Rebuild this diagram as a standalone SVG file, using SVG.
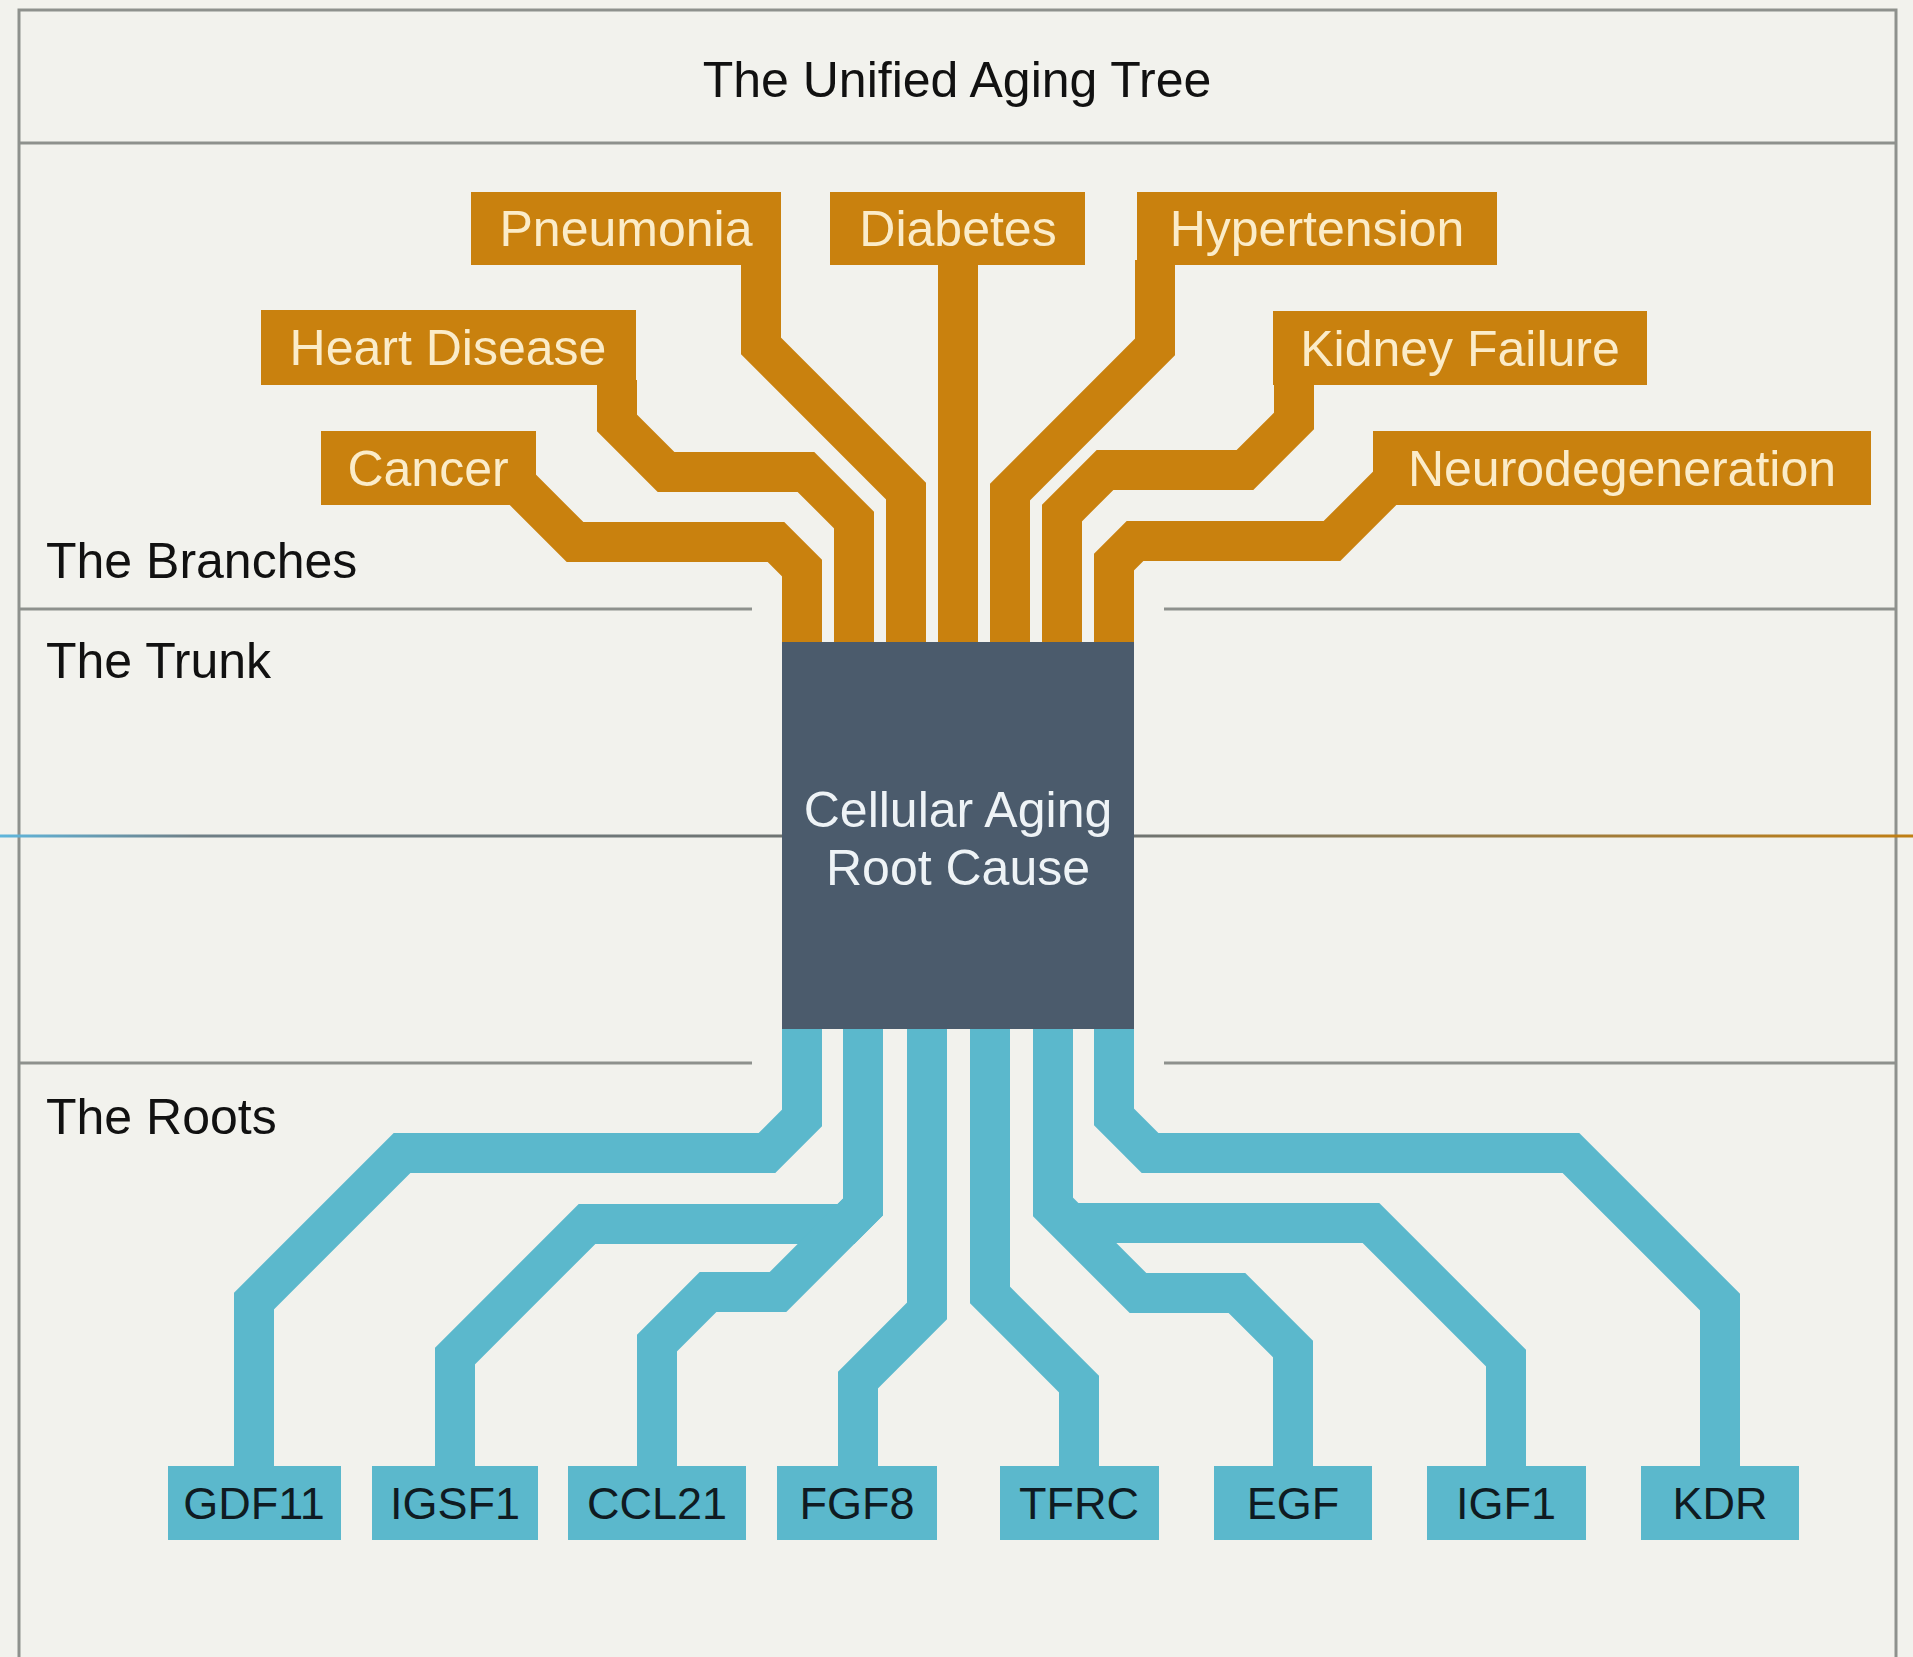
<svg xmlns="http://www.w3.org/2000/svg" width="1913" height="1657" viewBox="0 0 1913 1657">
<defs>
<linearGradient id="gl" x1="0" y1="0" x2="782" y2="0" gradientUnits="userSpaceOnUse">
<stop offset="0" stop-color="#5fb6dc"/><stop offset="0.25" stop-color="#6f7f86"/><stop offset="1" stop-color="#6f7472"/>
</linearGradient>
<linearGradient id="gr" x1="1134" y1="0" x2="1913" y2="0" gradientUnits="userSpaceOnUse">
<stop offset="0" stop-color="#6f7472"/><stop offset="0.3" stop-color="#8a7a55"/><stop offset="1" stop-color="#c07f14"/>
</linearGradient>
<style>
.bg{fill:#f2f2ed}
.frame{stroke:#8e918d;stroke-width:3;fill:none}
.sep{stroke:#8e918d;stroke-width:3}
.lbl{font-family:"Liberation Sans",Arial,sans-serif;font-size:50px;fill:#111}
.title{font-family:"Liberation Sans",Arial,sans-serif;font-size:50px;fill:#111;text-anchor:middle}
.co{fill:none;stroke:#c9810e;stroke-width:40;stroke-linejoin:miter;stroke-miterlimit:10}
.cb{fill:none;stroke:#5bb8cc;stroke-width:40;stroke-linejoin:miter;stroke-miterlimit:10}
.branch rect{fill:#c9810e}
.branch text{font-family:"Liberation Sans",Arial,sans-serif;font-size:50px;fill:#fbecc9;text-anchor:middle}
.root rect{fill:#5bb8cc}
.root text{font-family:"Liberation Sans",Arial,sans-serif;font-size:45px;fill:#0f1b22;text-anchor:middle}
.trunk rect{fill:#4b5b6c}
.trunk text{font-family:"Liberation Sans",Arial,sans-serif;font-size:50px;fill:#eef3f6;text-anchor:middle}
</style>
</defs>
<rect class="bg" x="0" y="0" width="1913" height="1657"/>
<g id="frame">
<path class="frame" d="M19,1657 V10 H1896 V1657"/>
<line class="sep" x1="19" y1="143" x2="1896" y2="143"/>
<line class="sep" x1="19" y1="609" x2="752" y2="609"/>
<line class="sep" x1="1164" y1="609" x2="1896" y2="609"/>
<line class="sep" x1="19" y1="1063" x2="752" y2="1063"/>
<line class="sep" x1="1164" y1="1063" x2="1896" y2="1063"/>
<line x1="0" y1="836" x2="782" y2="836" stroke="url(#gl)" stroke-width="3"/>
<line x1="1134" y1="836" x2="1913" y2="836" stroke="url(#gr)" stroke-width="3"/>
</g>
<text class="title" x="957" y="97">The Unified Aging Tree</text>
<text class="lbl" x="46" y="578">The Branches</text>
<text class="lbl" x="46" y="678">The Trunk</text>
<text class="lbl" x="46" y="1134">The Roots</text>
<g id="connectors">
<path class="co" d="M510,477 L575,542 L776,542 L802,568 L802,650"/>
<path class="co" d="M617,380 L617,423 L666,472 L806,472 L854,520 L854,650"/>
<path class="co" d="M761,260 L761,346 L906,491 L906,650"/>
<path class="co" d="M958,260 L958,650"/>
<path class="co" d="M1155,260 L1155,347 L1010,492 L1010,650"/>
<path class="co" d="M1294,380 L1294,421 L1245,470 L1105,470 L1062,513 L1062,650"/>
<path class="co" d="M1400,473 L1332,541 L1135,541 L1114,562 L1114,650"/>
<path class="cb" d="M802,1020 L802,1118 L767,1153 L402,1153 L254,1301 L254,1470"/>
<path class="cb" d="M863,1020 L863,1207 L846,1224 L587,1224 L455,1356 L455,1470"/>
<path class="cb" d="M863,1020 L863,1207 L778,1292 L708,1292 L657,1343 L657,1470"/>
<path class="cb" d="M927,1020 L927,1311 L858,1380 L858,1470"/>
<path class="cb" d="M990,1020 L990,1295 L1079,1384 L1079,1470"/>
<path class="cb" d="M1053,1020 L1053,1208 L1138,1293 L1237,1293 L1293,1349 L1293,1470"/>
<path class="cb" d="M1053,1020 L1053,1206 L1070,1223 L1371,1223 L1506,1358 L1506,1470"/>
<path class="cb" d="M1114,1020 L1114,1117 L1150,1153 L1571,1153 L1720,1302 L1720,1470"/>
</g>
<g id="trunk" class="trunk">
<rect x="782" y="642" width="352" height="387"/>
<text x="958" y="827">Cellular Aging</text>
<text x="958" y="885">Root Cause</text>
</g>
<g id="node-pneumonia" class="branch"><rect x="471" y="192" width="310" height="73"/><text x="626" y="246">Pneumonia</text></g>
<g id="node-diabetes" class="branch"><rect x="830" y="192" width="255" height="73"/><text x="958" y="246">Diabetes</text></g>
<g id="node-hypertension" class="branch"><rect x="1137" y="192" width="360" height="73"/><text x="1317" y="246">Hypertension</text></g>
<g id="node-heart-disease" class="branch"><rect x="261" y="310" width="375" height="75"/><text x="448" y="365">Heart Disease</text></g>
<g id="node-kidney-failure" class="branch"><rect x="1273" y="311" width="374" height="74"/><text x="1460" y="366">Kidney Failure</text></g>
<g id="node-cancer" class="branch"><rect x="321" y="431" width="215" height="74"/><text x="428" y="486">Cancer</text></g>
<g id="node-neurodegeneration" class="branch"><rect x="1373" y="431" width="498" height="74"/><text x="1622" y="486">Neurodegeneration</text></g>
<g id="node-gdf11" class="root"><rect x="168" y="1466" width="173" height="74"/><text x="254" y="1519">GDF11</text></g>
<g id="node-igsf1" class="root"><rect x="372" y="1466" width="166" height="74"/><text x="455" y="1519">IGSF1</text></g>
<g id="node-ccl21" class="root"><rect x="568" y="1466" width="178" height="74"/><text x="657" y="1519">CCL21</text></g>
<g id="node-fgf8" class="root"><rect x="777" y="1466" width="160" height="74"/><text x="857" y="1519">FGF8</text></g>
<g id="node-tfrc" class="root"><rect x="1000" y="1466" width="159" height="74"/><text x="1079" y="1519">TFRC</text></g>
<g id="node-egf" class="root"><rect x="1214" y="1466" width="158" height="74"/><text x="1293" y="1519">EGF</text></g>
<g id="node-igf1" class="root"><rect x="1427" y="1466" width="159" height="74"/><text x="1506" y="1519">IGF1</text></g>
<g id="node-kdr" class="root"><rect x="1641" y="1466" width="158" height="74"/><text x="1720" y="1519">KDR</text></g>
</svg>
